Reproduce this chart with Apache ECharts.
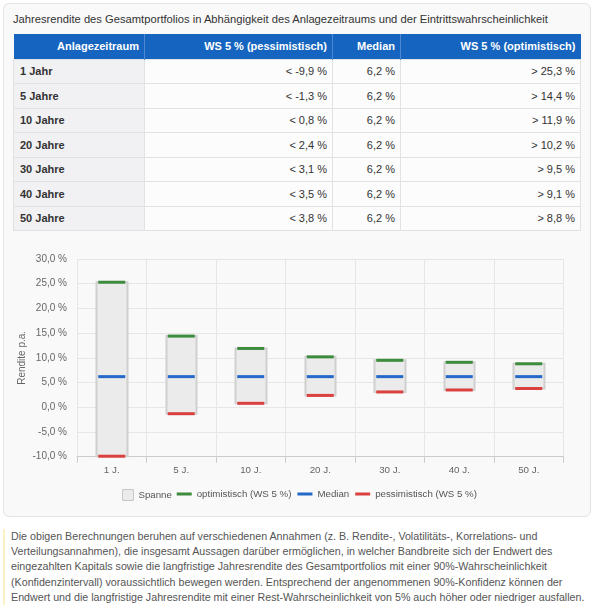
<!DOCTYPE html>
<html>
<head>
<meta charset="utf-8">
<script src="https://cdn.jsdelivr.net/npm/echarts@6/dist/echarts.min.js"></script>
<style>
    body { margin: 0; width: 595px; height: 610px; background: #fff; position: relative; overflow: hidden;
           font-family: Arial, "Liberation Sans", sans-serif; }
    .panel { position: absolute; left: 3px; top: 3px; width: 588px; height: 514px; box-sizing: border-box;
             border: 1px solid #e3e3e3; border-radius: 6px; background: #f9f9f9; }
    .title { position: absolute; left: 13px; top: 12px; font-size: 11.2px; line-height: 14px; color: #333; white-space: nowrap; }
    table { position: absolute; left: 13px; top: 34px; width: 567px; border-collapse: collapse; table-layout: fixed;
            font-size: 11px; color: #333; }
    th { background: #1565c0; color: #fff; font-weight: bold; text-align: right; padding: 0 5px; height: 25px;
         border-right: 1px solid #4f88d0; box-sizing: border-box; }
    th:last-child { border-right: none; }
    td { border: 1px solid #e2e2e2; height: 24.5px; padding: 0 5px; text-align: right; background: #fcfcfc; box-sizing: border-box; }
    td.first { text-align: left; font-weight: bold; padding-left: 6px; background: #f1f1f3; }
    #main { position: absolute; left: 13px; top: 238px; width: 567px; height: 272px; }
    .note { position: absolute; left: 3px; top: 529px; border-left: 2px solid #fbf1c2; padding-left: 6px;
            font-size: 10.7px; line-height: 15.2px; color: #555; white-space: nowrap; }
</style>
</head>
<body>
<div class="panel"></div>
<div class="title">Jahresrendite des Gesamtportfolios in Abhängigkeit des Anlagezeitraums und der Eintrittswahrscheinlichkeit</div>
<table id="tbl">
    <colgroup><col style="width:131px"><col style="width:188px"><col style="width:68px"><col style="width:180px"></colgroup>
    <thead><tr id="head"></tr></thead>
    <tbody id="body"></tbody>
</table>
<div id="main"></div>
<div class="note">
Die obigen Berechnungen beruhen auf verschiedenen Annahmen (z. B. Rendite-, Volatilitäts-, Korrelations- und<br>
Verteilungsannahmen), die insgesamt Aussagen darüber ermöglichen, in welcher Bandbreite sich der Endwert des<br>
eingezahlten Kapitals sowie die langfristige Jahresrendite des Gesamtportfolios mit einer 90%-Wahrscheinlichkeit<br>
(Konfidenzintervall) voraussichtlich bewegen werden. Entsprechend der angenommenen 90%-Konfidenz können der<br>
Endwert und die langfristige Jahresrendite mit einer Rest-Wahrscheinlichkeit von 5% auch höher oder niedriger ausfallen.
</div>
<script>
// Daten
var headers = ['Anlagezeitraum', 'WS 5 % (pessimistisch)', 'Median', 'WS 5 % (optimistisch)'];
var periods = ['1 Jahr', '5 Jahre', '10 Jahre', '20 Jahre', '30 Jahre', '40 Jahre', '50 Jahre'];
var categories = ['1 J.', '5 J.', '10 J.', '20 J.', '30 J.', '40 J.', '50 J.'];
var pessimistic = [-9.9, -1.3, 0.8, 2.4, 3.1, 3.5, 3.8];
var median = [6.2, 6.2, 6.2, 6.2, 6.2, 6.2, 6.2];
var optimistic = [25.3, 14.4, 11.9, 10.2, 9.5, 9.1, 8.8];

function fmt(v) {
    return v.toFixed(1).replace('.', ',');
}

// Tabelle
var head = document.getElementById('head');
headers.forEach(function (h) {
    var th = document.createElement('th');
    th.textContent = h;
    head.appendChild(th);
});
var body = document.getElementById('body');
periods.forEach(function (p, i) {
    var tr = document.createElement('tr');
    var cells = [p, '< ' + fmt(pessimistic[i]) + ' %', fmt(median[i]) + ' %', '> ' + fmt(optimistic[i]) + ' %'];
    cells.forEach(function (c, j) {
        var td = document.createElement('td');
        if (j === 0) td.className = 'first';
        td.textContent = c;
        tr.appendChild(td);
    });
    body.appendChild(tr);
});

// Spanne: [open, close, lowest, highest]
var spanData = pessimistic.map(function (v, i) {
    return [v, optimistic[i], v, optimistic[i]];
});

var myChart = echarts.init(document.getElementById('main'));
var option = {
    animation: false,
    grid: {left: 64, right: 16.5, top: 21, bottom: 53.3, outerBoundsMode: 'none'},
    legend: [
        {
            data: [{name: 'Spanne', icon: 'rect', itemStyle: {color: '#ebebeb', borderColor: '#c8c8c8', borderWidth: 1}}],
            left: 104,
            top: 246,
            itemWidth: 11,
            itemHeight: 11,
            selectedMode: false,
            textStyle: {fontSize: 9.7, color: '#555'}
        },
        {
            data: [
                {name: 'optimistisch (WS 5 %)', icon: 'rect'},
                {name: 'Median', icon: 'rect'},
                {name: 'pessimistisch (WS 5 %)', icon: 'rect'}
            ],
            left: 158.7,
            top: 246,
            itemWidth: 15,
            itemHeight: 3,
            itemGap: 6,
            selectedMode: false,
            textStyle: {fontSize: 9.7, color: '#555'}
        }
    ],
    xAxis: {
        type: 'category',
        data: categories,
        boundaryGap: true,
        axisLine: {onZero: false, lineStyle: {color: '#cccccc', width: 1}},
        axisTick: {show: true, length: 6, lineStyle: {color: '#cccccc'}},
        axisLabel: {color: '#666', fontSize: 9.8, margin: 9},
        splitLine: {show: true, lineStyle: {color: '#e6e6e6'}}
    },
    yAxis: {
        type: 'value',
        min: -10,
        max: 30,
        interval: 5,
        name: 'Rendite p.a.',
        nameLocation: 'middle',
        nameGap: 50,
        nameMoveOverlap: false,
        nameTextStyle: {color: '#666', fontSize: 10},
        axisLine: {show: false},
        axisTick: {show: false},
        axisLabel: {
            color: '#666',
            fontSize: 10,
            margin: 10,
            formatter: function (value) {
                return fmt(value) + ' %';
            }
        },
        splitLine: {lineStyle: {color: '#e6e6e6'}}
    },
    series: [
        {
            name: 'Spanne',
            type: 'candlestick',
            barWidth: 31,
            data: spanData,
            itemStyle: {
                color: '#ebebeb', color0: '#ebebeb',
                borderColor: '#d0d0d0', borderColor0: '#d0d0d0',
                borderWidth: 2
            }
        },
        {
            name: 'optimistisch (WS 5 %)',
            type: 'scatter',
            symbol: 'rect',
            symbolSize: [27, 3],
            data: optimistic,
            itemStyle: {color: '#3d8b3d', opacity: 1},
            z: 3
        },
        {
            name: 'Median',
            type: 'scatter',
            symbol: 'rect',
            symbolSize: [27, 3],
            data: median,
            itemStyle: {color: '#2468c8', opacity: 1},
            z: 3
        },
        {
            name: 'pessimistisch (WS 5 %)',
            type: 'scatter',
            symbol: 'rect',
            symbolSize: [27, 3],
            data: pessimistic,
            itemStyle: {color: '#d9403e', opacity: 1},
            z: 3
        }
    ]
};
myChart.setOption(option);
</script>
</body>
</html>
